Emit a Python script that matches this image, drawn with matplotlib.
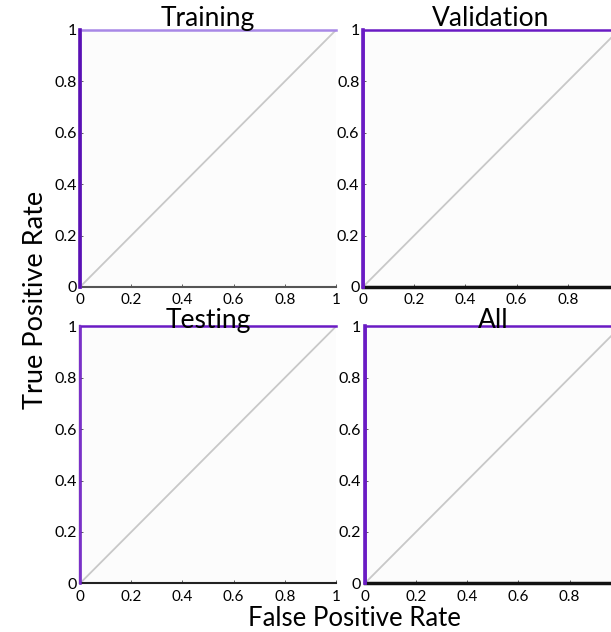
import matplotlib.pyplot as plt

plt.rcParams['font.family'] = ['Lato', 'DejaVu Sans']

# ROC curves (false positive rate, true positive rate) per panel
titulos = ["Training", "Validation", "Testing", "All"]
fpr_roc = [0, 0, 1]
tpr_roc = [0, 1, 1]
diag = [0, 1]
ticks = [0, 0.2, 0.4, 0.6, 0.8, 1]
tick_labels = ["0", "0.2", "0.4", "0.6", "0.8", "1"]

fig = plt.figure(figsize=(6.11, 6.32), dpi=100)

posiciones = [
    [0.131, 0.546, 0.419, 0.4066],
    [0.594, 0.546, 0.419, 0.4066],
    [0.131, 0.077, 0.419, 0.4066],
    [0.597, 0.077, 0.419, 0.4066],
]
colores_top = ["#a888e6", "#6a1bc4", "#6a1bc4", "#6a1bc4"]
colores_vert = ["#5a10b4", "#6a1bc4", "#7a30c8", "#6a1bc4"]
spine_color = ["#555555", "#111111", "#222222", "#111111"]
spine_bottom_w = [1.5, 2.5, 1.5, 2.5]
titulo_y = [1.015, 1.015, 0.995, 0.995]

for i in range(4):
    ax = fig.add_axes(posiciones[i])
    ax.set_facecolor("#fcfcfc")
    ax.plot(diag, diag, color="#c8c8c8", lw=1.3, zorder=2)
    ax.plot(fpr_roc, tpr_roc, color=colores_top[i], lw=1.8, zorder=3, clip_on=False)
    ax.plot(fpr_roc[:2], tpr_roc[:2], color=colores_vert[i], lw=2.6 if i != 2 else 1.6,
            zorder=4, clip_on=False)
    ax.set_xlim(0, 1)
    ax.set_ylim(0, 1)
    ax.set_xticks(ticks)
    ax.set_yticks(ticks)
    etiquetas_x = tick_labels if i % 2 == 0 else tick_labels[:-1] + [""]
    ax.set_xticklabels(etiquetas_x, fontsize=11)
    ax.set_yticklabels(tick_labels, fontsize=11.5)
    ax.tick_params(direction="in", length=2, width=0.6, color="#444444")
    ax.tick_params(axis="x", pad=4.5)
    ax.tick_params(axis="y", pad=2.5)
    ax.spines["top"].set_visible(False)
    ax.spines["right"].set_visible(False)
    ax.spines["left"].set_color(spine_color[i])
    ax.spines["left"].set_linewidth(1.5)
    ax.spines["bottom"].set_color(spine_color[i])
    ax.spines["bottom"].set_linewidth(spine_bottom_w[i])
    ax.set_title(titulos[i], fontsize=19, pad=0, y=titulo_y[i], va="baseline")

fig.text(0.058, 0.525, "True Positive Rate", rotation=90, fontsize=19.5,
         ha="center", va="center")
fig.text(0.58, 0.001, "False Positive Rate", fontsize=18.5, ha="center", va="bottom")

plt.savefig("out.png", dpi=100)
